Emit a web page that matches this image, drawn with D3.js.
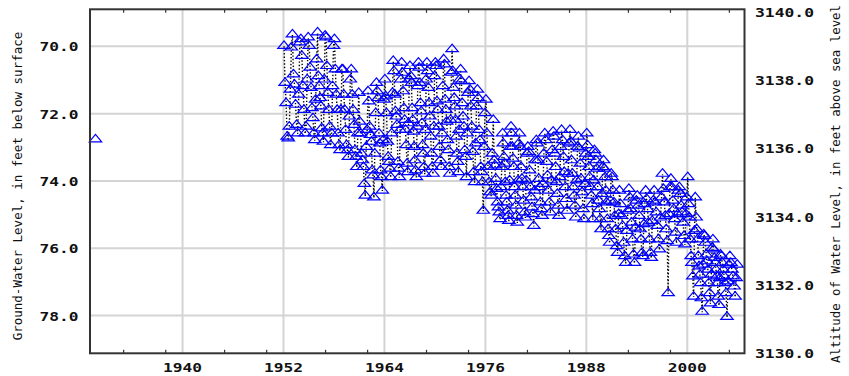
<!DOCTYPE html>
<html>
<head>
<meta charset="utf-8">
<script src="https://cdn.jsdelivr.net/npm/d3@7/dist/d3.min.js"></script>
<style>
  html,body{margin:0;padding:0;background:#fff}
  svg{display:block}
</style>
</head>
<body>
<div id="chart"></div>
<script>
// Ground-water levels, depth in feet below land surface.
// One early measurement, then a run of readings per year (listed in season order).
var earlyDates = [1929.65];
var earlyLevels = [72.78];

var levelYears = [1952,1953,1954,1955,1956,1957,1958,1959,1960,1961,1962,1963,1964,1965,1966,1967,1968,1969,1970,
  1971,1972,1973,1974,1975,1976,1977,1978,1979,1980,1981,1982,1983,1984,1985,1986,1987,1988,1989,1990,
  1991,1992,1993,1994,1995,1996,1997,1998,1999,2000,2001,2002,2003,2004,2005];
var levelValues = [
  [70.0, 71.1, 71.7, 72.7, 72.75, 72.4, 71.3, 70.05],
  [69.66, 70.85, 71.15, 71.75, 72.35, 72.6, 71.45, 69.9],
  [69.8, 70.3, 71.2, 71.9, 72.6, 72.4, 71.0, 69.75],
  [70.0, 70.65, 71.25, 71.85, 72.15, 72.6, 72.8, 71.6, 70.4],
  [69.6, 70.9, 71.2, 71.55, 71.8, 72.45, 72.6, 72.85, 71.0, 69.7],
  [69.75, 70.6, 71.4, 71.9, 72.4, 72.95, 72.6, 71.2, 70.0],
  [69.8, 70.7, 71.45, 71.9, 72.6, 72.95, 73.1, 71.9, 70.7],
  [70.7, 71.45, 71.9, 72.5, 72.95, 73.1, 73.3, 72.1, 71.0],
  [70.7, 71.45, 71.9, 72.35, 73.1, 73.3, 73.6, 72.6, 71.4],
  [72.25, 72.6, 73.2, 73.4, 73.6, 74.1, 74.45, 73.0, 72.5],
  [71.35, 71.65, 72.4, 72.65, 72.85, 73.7, 73.85, 74.5, 73.2, 72.0],
  [71.1, 71.35, 71.55, 72.6, 72.9, 73.7, 73.9, 74.3, 72.8, 71.6],
  [71.0, 71.5, 72.0, 72.85, 73.3, 73.45, 73.65, 73.9, 72.6, 71.4],
  [70.45, 70.75, 71.45, 71.95, 72.1, 72.35, 73.45, 73.65, 73.9, 72.5, 71.0],
  [70.5, 70.8, 71.35, 71.85, 72.2, 72.5, 72.95, 73.5, 73.75, 72.3, 71.0],
  [70.6, 70.9, 71.1, 71.85, 72.2, 72.55, 73.0, 73.4, 73.7, 73.9, 72.4, 71.2],
  [70.5, 70.65, 71.1, 71.7, 71.95, 72.3, 72.95, 73.2, 73.6, 73.8, 72.5, 71.0],
  [70.5, 70.75, 71.25, 71.7, 72.1, 72.7, 73.2, 73.6, 73.8, 72.4, 70.9],
  [70.5, 70.6, 71.65, 71.9, 72.4, 73.0, 73.4, 73.6, 72.6, 71.2],
  [70.4, 70.55, 71.6, 71.9, 72.25, 72.8, 73.1, 73.6, 73.8, 72.2, 70.8],
  [70.1, 70.75, 71.25, 71.55, 71.8, 72.2, 72.7, 73.2, 73.45, 73.75, 72.5, 71.0],
  [70.7, 71.05, 71.7, 72.1, 72.4, 73.1, 73.3, 73.9, 72.6, 71.4],
  [71.05, 71.3, 71.8, 72.4, 73.15, 73.75, 74.05, 72.9, 71.8],
  [71.3, 71.55, 72.5, 72.8, 73.6, 73.75, 74.05, 74.9, 73.0, 72.0],
  [71.6, 72.6, 73.6, 74.05, 74.35, 74.45, 73.2, 72.2],
  [73.4, 73.55, 73.95, 74.25, 74.65, 74.8, 74.95, 75.15, 74.2, 73.6],
  [72.6, 72.9, 73.3, 73.5, 74.05, 74.45, 74.65, 74.9, 75.05, 75.2, 74.0, 73.0],
  [72.4, 72.6, 73.0, 73.35, 73.6, 74.2, 74.45, 74.75, 75.05, 75.25, 74.0, 72.9],
  [72.6, 73.0, 73.6, 73.95, 74.2, 74.6, 74.95, 75.1, 74.0, 73.2],
  [73.0, 73.15, 73.7, 74.2, 74.5, 74.8, 75.0, 75.35, 74.3, 73.4],
  [72.8, 72.9, 73.4, 73.95, 74.2, 74.65, 74.85, 75.05, 74.1, 73.2],
  [72.6, 72.8, 73.45, 73.85, 74.3, 74.65, 74.95, 74.0, 73.1],
  [72.55, 72.7, 73.2, 73.6, 74.05, 74.4, 74.75, 75.05, 73.9, 73.0],
  [72.5, 72.8, 73.3, 73.75, 74.2, 74.55, 74.9, 73.8, 72.9],
  [72.5, 72.85, 73.4, 73.8, 74.2, 74.45, 74.75, 75.1, 74.0, 73.0],
  [72.7, 73.05, 73.5, 73.95, 74.35, 74.85, 75.15, 74.1, 73.2],
  [72.6, 72.95, 73.3, 73.6, 73.9, 74.2, 74.45, 74.7, 75.15, 74.0, 73.1],
  [73.2, 73.4, 73.65, 74.2, 74.6, 74.85, 75.15, 75.45, 74.4, 73.6],
  [73.4, 73.65, 73.9, 74.3, 74.65, 75.15, 75.45, 75.65, 75.85, 74.6, 73.8],
  [73.9, 74.3, 74.65, 75.05, 75.45, 75.95, 76.15, 75.0, 74.3],
  [74.7, 75.05, 75.35, 75.85, 76.25, 76.45, 75.5, 74.9],
  [74.25, 74.5, 74.85, 75.25, 75.75, 76.2, 76.45, 75.4, 74.6],
  [74.45, 74.75, 75.05, 75.45, 75.75, 76.15, 76.25, 75.3, 74.7],
  [74.3, 74.55, 74.85, 75.25, 75.75, 76.15, 76.3, 75.2, 74.6],
  [74.3, 74.65, 74.95, 75.35, 75.75, 76.05, 75.1, 74.5],
  [73.8, 74.25, 74.65, 75.05, 75.45, 75.8, 77.35, 75.0, 74.2],
  [73.95, 74.2, 74.6, 74.85, 75.15, 75.55, 75.85, 75.0, 74.3],
  [74.2, 74.4, 74.75, 74.95, 75.25, 75.65, 75.9, 75.0, 74.5],
  [73.9, 74.7, 75.1, 75.75, 76.25, 76.45, 76.85, 77.45, 75.5, 74.5],
  [75.1, 75.45, 75.75, 76.25, 76.55, 76.8, 77.05, 77.5, 77.9, 76.5, 75.6],
  [75.65, 75.85, 76.2, 76.4, 76.65, 77.05, 77.35, 77.65, 76.8, 76.0],
  [75.75, 76.05, 76.3, 76.45, 76.65, 76.85, 77.05, 77.45, 77.7, 76.9, 76.2],
  [76.25, 76.45, 76.65, 76.85, 77.05, 77.35, 78.05, 77.0, 76.5],
  [76.25, 76.45, 76.65, 76.85, 77.15, 77.45, 76.9, 76.5]
];

var xTicks = [1940, 1952, 1964, 1976, 1988, 2000];
var xMinorTicks = [1933, 1938, 1945, 1950, 1957, 1962, 1969, 1974, 1981, 1986, 1993, 1998, 2005];
var leftTicks = [70, 72, 74, 76, 78];
var rightTicks = [3130, 3132, 3134, 3136, 3138, 3140];

var W = 849, H = 376;
var L = 90, R = 744.5, T = 9.3, B = 353.3;
var MONO = '"DejaVu Sans Mono","Liberation Mono",monospace';

var svg = d3.select('#chart').append('svg').attr('width', W).attr('height', H);

var x = d3.scaleLinear().domain([1929.0, 2006.8]).range([L, R]);
var y = d3.scaleLinear().domain([68.9, 79.12]).range([T, B]);
var yAlt = d3.scaleLinear().domain([3130, 3140]).range([358.3, 16.7]); // label baselines

// build point lists: readings spread across each year
var main = [];
levelYears.forEach(function(yr, k){
  var vals = levelValues[k];
  vals.forEach(function(v, i){ main.push({date: yr + (i + 0.5) / vals.length, level: v}); });
});
var early = earlyDates.map(function(d, i){ return {date: d, level: earlyLevels[i]}; });

// grid
svg.append('g').selectAll('line.gx').data(xTicks).enter().append('line')
  .attr('x1', function(d){return x(d)}).attr('x2', function(d){return x(d)})
  .attr('y1', T).attr('y2', B).attr('stroke', '#d4d4d4').attr('stroke-width', 2);
svg.append('g').selectAll('line.gy').data(leftTicks).enter().append('line')
  .attr('x1', L).attr('x2', R)
  .attr('y1', function(d){return y(d)}).attr('y2', function(d){return y(d)})
  .attr('stroke', '#d4d4d4').attr('stroke-width', 2);

// minor ticks, inside top and bottom
var mt = svg.append('g').attr('stroke', '#333').attr('stroke-width', 1.2);
xMinorTicks.forEach(function(d){
  mt.append('line').attr('x1', x(d)).attr('x2', x(d)).attr('y1', B).attr('y2', B - 3.5);
  mt.append('line').attr('x1', x(d)).attr('x2', x(d)).attr('y1', T).attr('y2', T + 3.5);
});

// data: dotted connecting line + open triangles
var line = d3.line().x(function(d){return x(d.date)}).y(function(d){return y(d.level)});
[early, main].forEach(function(seg){
  svg.append('path').datum(seg).attr('d', line).attr('fill', 'none')
    .attr('stroke', '#000').attr('stroke-width', 1.4).attr('stroke-dasharray', '1.4,2');
});
var tri = 'M0,-5.5L6.2,2L-6.2,2Z';
svg.append('g').selectAll('path.pt').data(early.concat(main)).enter().append('path')
  .attr('d', tri)
  .attr('transform', function(d){return 'translate(' + x(d.date) + ',' + y(d.level) + ')'})
  .attr('fill', 'none').attr('stroke', '#0000ff').attr('stroke-width', 1.2);

// frame
svg.append('rect').attr('x', L).attr('y', T).attr('width', R - L).attr('height', B - T)
  .attr('fill', 'none').attr('stroke', '#333').attr('stroke-width', 2);

// tick labels
function lab(t, tx, ty, anchor){
  return svg.append('text').attr('x', tx).attr('y', ty).attr('text-anchor', anchor)
    .attr('font-family', MONO).attr('font-weight', 'bold').attr('font-size', 12)
    .attr('textLength', t.length * 10 - 1).attr('lengthAdjust', 'spacingAndGlyphs')
    .attr('fill', '#111').text(t);
}
xTicks.forEach(function(d){ lab(String(d), x(d), 372, 'middle'); });
leftTicks.forEach(function(d){ lab(d.toFixed(1), 78.5, y(d) + 5, 'end'); });
rightTicks.forEach(function(d){ lab(d.toFixed(1), 755, yAlt(d), 'start'); });

// axis titles
svg.append('text').attr('transform', 'translate(22,186) rotate(-90)').attr('text-anchor', 'middle')
  .attr('font-family', MONO).attr('font-size', 12.5).attr('fill', '#111')
  .text('Ground-Water Level, in feet below surface');
svg.append('text').attr('transform', 'translate(840,184) rotate(-90)').attr('text-anchor', 'middle')
  .attr('font-family', MONO).attr('font-size', 12.4).attr('fill', '#111')
  .text('Altitude of Water Level, in feet above sea level');
</script>
</body>
</html>
